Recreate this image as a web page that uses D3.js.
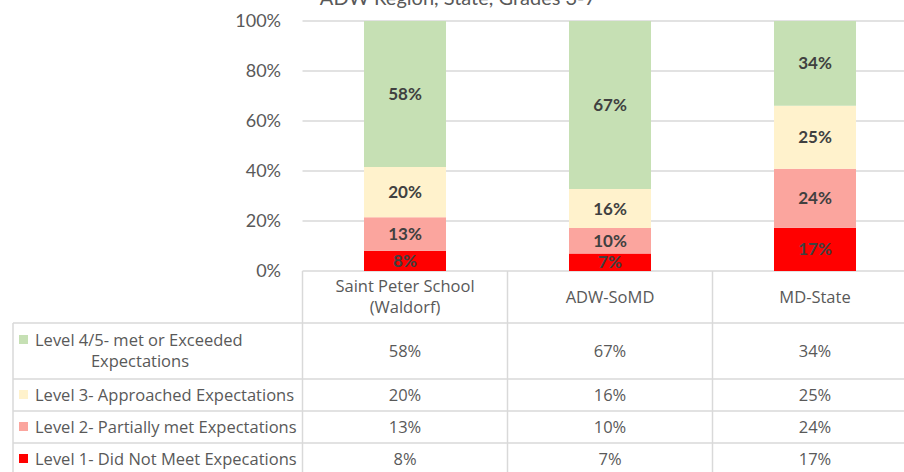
<!DOCTYPE html>
<html>
<head>
<meta charset="utf-8">
<script src="https://cdn.jsdelivr.net/npm/d3@7"></script>
<style>
  body { margin: 0; background: #fff; }
  svg { display: block; font-family: Lato, "Open Sans", sans-serif; }
  .tick-label { fill: #595959; font-size: 18px; }
  .bar-label { fill: #404040; font-size: 17px; font-weight: bold; }
  .cell { fill: #595959; font-size: 16.5px; font-family: "Open Sans", sans-serif; }
  .grid, .table-line { stroke: #d9d9d9; stroke-width: 1.5; }
</style>
</head>
<body>
<svg width="904" height="472"></svg>
<script>
// school vs region vs state, stacked 100% with data table underneath
const CATEGORIES = ['Saint Peter School (Waldorf)', 'ADW-SoMD', 'MD-State'];
const HEADER_LINES = [['Saint Peter School', '(Waldorf)'], ['ADW-SoMD'], ['MD-State']];
const LEVELS = [
    'Level 1- Did Not Meet Expecations',
    'Level 2- Partially met Expectations',
    'Level 3- Approached Expectations',
    'Level 4/5- met or Exceeded Expectations'
];
const COLORS = ['#ff0000', '#fba59e', '#fff2cc', '#c6e0b4'];
// shares in percent (table shows them rounded)
const level1 = [8.1, 7.0, 17.3];
const level2 = [13.4, 10.2, 23.6];
const level3 = [20.1, 15.6, 25.2];
const level45 = [58.4, 67.2, 33.9];
const Y_TICKS = [0, 20, 40, 60, 80, 100];
const TITLE = 'ADW Region, State, Grades 3-7';

const width = 904;
const height = 472;
const plotLeft = 302.5;
const plotTop = 21;
const plotBottom = 271;

const svg = d3.select('svg');
const fmt = d3.format('.0%');

const rows = CATEGORIES.map((c, i) => ({
    cat: c,
    l1: level1[i],
    l2: level2[i],
    l3: level3[i],
    l45: level45[i]
}));
const keys = ['l1', 'l2', 'l3', 'l45'];

const x = d3.scaleBand()
    .domain(CATEGORIES)
    .range([plotLeft, plotLeft + 615])
    .padding(0);

const y = d3.scaleLinear()
    .domain([0, 100])
    .range([plotBottom, plotTop]);

const barW = x.bandwidth() * 0.4;

// title, cut off at the top like the source
svg.append('text')
    .attr('x', 458)
    .attr('y', 5)
    .attr('text-anchor', 'middle')
    .attr('fill', '#595959')
    .style('font-size', '20px')
    .text(TITLE);

// gridlines
svg.append('g')
    .selectAll('line')
    .data(Y_TICKS)
    .enter().append('line')
    .attr('class', 'grid')
    .attr('x1', plotLeft)
    .attr('x2', width)
    .attr('y1', d => y(d))
    .attr('y2', d => y(d));

svg.append('g')
    .selectAll('text')
    .data(Y_TICKS)
    .enter().append('text')
    .attr('class', 'tick-label')
    .attr('x', 281)
    .attr('y', d => y(d))
    .attr('dy', '0.35em')
    .attr('text-anchor', 'end')
    .text(d => d + '%');

// stacked bars
const series = d3.stack().keys(keys)(rows);

svg.append('clipPath')
    .attr('id', 'plot-clip')
    .append('rect')
    .attr('x', plotLeft)
    .attr('y', 0)
    .attr('width', width)
    .attr('height', plotBottom);

const layer = svg.append('g')
    .selectAll('g')
    .data(series)
    .enter().append('g')
    .attr('fill', (d, i) => COLORS[i]);

layer.selectAll('rect')
    .data(d => d)
    .enter().append('rect')
    .attr('x', d => x(d.data.cat) + (x.bandwidth() - barW) / 2)
    .attr('width', barW)
    .attr('y', d => y(d[1]))
    .attr('height', d => y(d[0]) - y(d[1]));

svg.append('g')
    .attr('clip-path', 'url(#plot-clip)')
    .selectAll('g')
    .data(series)
    .enter().append('g')
    .selectAll('text')
    .data(d => d)
    .enter().append('text')
    .attr('class', 'bar-label')
    .attr('x', d => x(d.data.cat) + x.bandwidth() / 2)
    .attr('y', d => (y(d[0]) + y(d[1])) / 2)
    .attr('dy', '0.36em')
    .attr('text-anchor', 'middle')
    .text(d => fmt((d[1] - d[0]) / 100));

// data table
const headerBottom = 323;
const rowEdges = [323, 379, 411, 443, 475]; // level 4/5 row first
const tableRows = [3, 2, 1, 0]; // order of levels in the table

const table = svg.append('g');

table.selectAll('.vline')
    .data(CATEGORIES)
    .enter().append('line')
    .attr('class', 'table-line')
    .attr('x1', d => x(d))
    .attr('x2', d => x(d))
    .attr('y1', plotBottom)
    .attr('y2', height);

table.append('line')
    .attr('class', 'table-line')
    .attr('x1', 13).attr('x2', 13)
    .attr('y1', headerBottom).attr('y2', height);

table.selectAll('.hline')
    .data(rowEdges)
    .enter().append('line')
    .attr('class', 'table-line')
    .attr('x1', 13)
    .attr('x2', width)
    .attr('y1', d => d)
    .attr('y2', d => d);

// header cells
const header = table.selectAll('.head')
    .data(CATEGORIES)
    .enter().append('text')
    .attr('class', 'cell')
    .attr('text-anchor', 'middle');

header.selectAll('tspan')
    .data((d, i) => HEADER_LINES[i].map((t, j, a) => ({ t, j, n: a.length, cat: d })))
    .enter().append('tspan')
    .attr('x', d => x(d.cat) + x.bandwidth() / 2)
    .attr('y', d => (plotBottom + headerBottom) / 2 + (d.j - (d.n - 1) / 2) * 21)
    .attr('dy', '0.35em')
    .text(d => d.t);

// body rows
const allSeries = [level1, level2, level3, level45];

tableRows.forEach((lvl, r) => {
    const top = rowEdges[r];
    const bottom = rowEdges[r + 1];
    const mid = (top + bottom) / 2;
    const g = table.append('g');

    const lines = lvl === 3 ? ['Level 4/5- met or Exceeded', 'Expectations'] : [LEVELS[lvl]];
    const firstY = lines.length > 1 ? top + 17 : mid;

    g.append('rect')
        .attr('x', 19)
        .attr('y', firstY - 5)
        .attr('width', 9)
        .attr('height', 9)
        .attr('fill', COLORS[lvl]);

    g.selectAll('.lbl')
        .data(lines)
        .enter().append('text')
        .attr('class', 'cell')
        .attr('x', (d, j) => j === 0 ? 35 : 140)
        .attr('text-anchor', (d, j) => j === 0 ? 'start' : 'middle')
        .attr('y', (d, j) => firstY + j * 21)
        .attr('dy', '0.35em')
        .text(d => d);

    g.selectAll('.val')
        .data(CATEGORIES)
        .enter().append('text')
        .attr('class', 'cell')
        .attr('x', d => x(d) + x.bandwidth() / 2)
        .attr('y', mid)
        .attr('dy', '0.35em')
        .attr('text-anchor', 'middle')
        .text((d, i) => fmt(allSeries[lvl][i] / 100));
});
</script>
</body>
</html>
